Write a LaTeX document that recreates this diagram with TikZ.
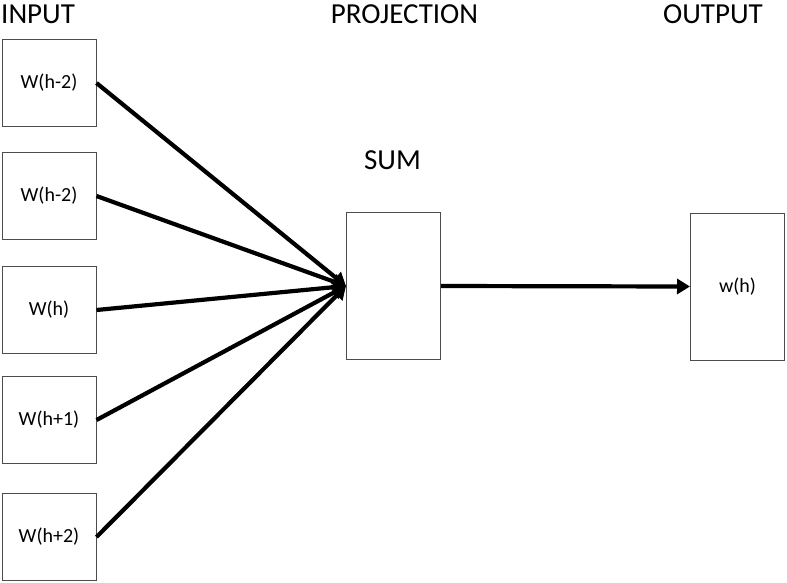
\documentclass[tikz,border=0pt]{standalone}
\usepackage{fontspec}
\setmainfont{Carlito}
\usetikzlibrary{arrows.meta}
\begin{document}
\begin{tikzpicture}[x=1pt,y=-1pt,
  box/.style={draw=black!70,line width=1pt,rectangle,minimum width=94pt,inner sep=0pt,font=\fontsize{20}{24}\selectfont},
  inbox/.style={box,minimum height=87pt},
  bigbox/.style={box,minimum height=147pt},
  conn/.style={line width=4.2pt,-{Triangle[length=13pt,width=15pt]}},
  head/.style={font=\fontsize{29}{34}\selectfont,inner sep=0pt}]
\useasboundingbox (0,0) rectangle (787,582);
\node[inbox] (i1) at (49,83) {W(h-2)};
\node[inbox] (i2) at (49,196) {W(h-2)};
\node[inbox] (i3) at (49,310) {W(h)};
\node[inbox] (i4) at (49,420) {W(h+1)};
\node[inbox] (i5) at (49,537) {W(h+2)};
\node[bigbox] (sum) at (393.5,286) {};
\node[bigbox] (out) at (737.5,286.5) {w(h)};
\node[head,anchor=west] (tin) at (1,14) {INPUT};
\node[head] (tproj) at (404.5,14) {PROJECTION};
\node[head] (tout) at (713,14) {OUTPUT};
\node[head] (tsum) at (392.5,160) {SUM};
\foreach \i in {1,...,5}{\draw[conn] (i\i.east) -- (sum.west);}
\draw[conn] (sum.east) -- (out.west);
\end{tikzpicture}
\end{document}
